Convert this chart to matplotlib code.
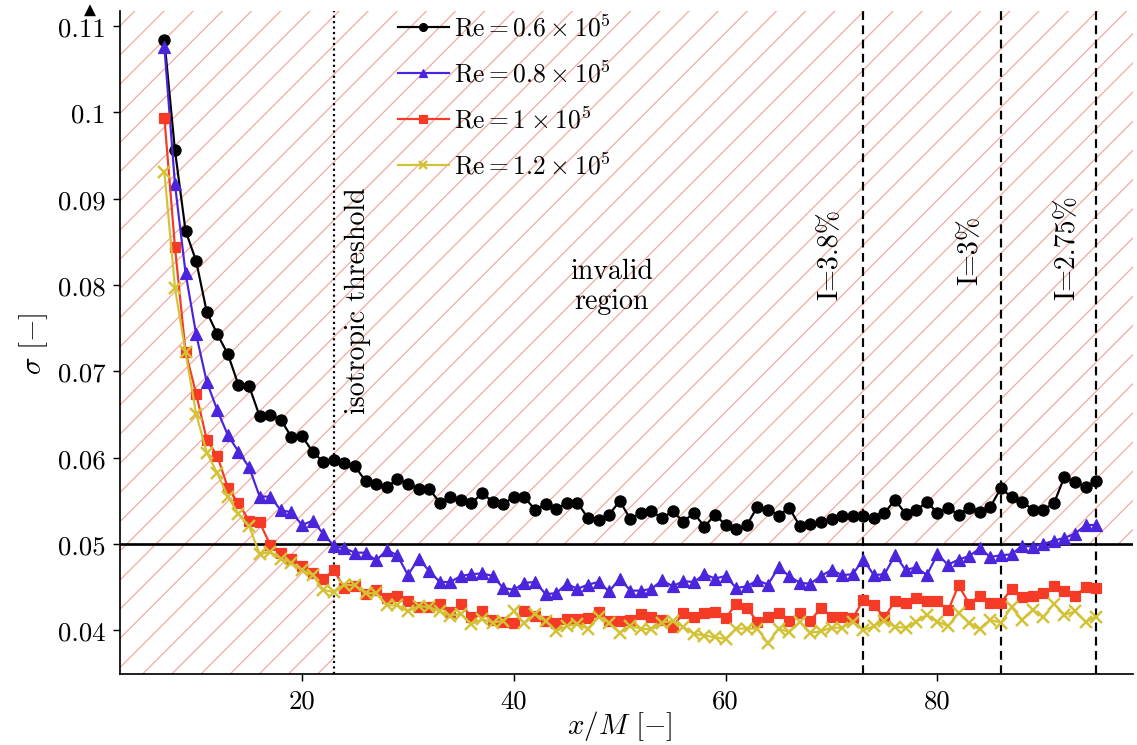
import numpy as np
import matplotlib
matplotlib.use("Agg")
import matplotlib.pyplot as plt
from matplotlib.patches import Rectangle
from matplotlib.ticker import FuncFormatter, FixedLocator

plt.rcParams['font.family'] = 'serif'
plt.rcParams['font.serif'] = ['cmr10']
plt.rcParams['mathtext.fontset'] = 'cm'
plt.rcParams['axes.formatter.use_mathtext'] = True
plt.rcParams['hatch.linewidth'] = 0.5

x_pos = list(range(7, 96))

sigma_re06 = [0.1084, 0.0956, 0.0863, 0.0828, 0.0769, 0.0743, 0.0720, 0.0684, 0.0683, 0.0648,
              0.0650, 0.0644, 0.0624, 0.0625, 0.0607, 0.0595, 0.0597, 0.0594, 0.0590, 0.0573,
              0.0570, 0.0566, 0.0575, 0.0570, 0.0564, 0.0564, 0.0548, 0.0555, 0.0551, 0.0547,
              0.0559, 0.0549, 0.0546, 0.0555, 0.0554, 0.0540, 0.0546, 0.0541, 0.0547, 0.0548,
              0.0530, 0.0528, 0.0534, 0.0550, 0.0529, 0.0536, 0.0538, 0.0530, 0.0538, 0.0526,
              0.0536, 0.0520, 0.0534, 0.0522, 0.0517, 0.0522, 0.0543, 0.0540, 0.0533, 0.0542,
              0.0521, 0.0523, 0.0525, 0.0529, 0.0532, 0.0532, 0.0533, 0.0530, 0.0536, 0.0551,
              0.0535, 0.0539, 0.0549, 0.0536, 0.0542, 0.0534, 0.0542, 0.0537, 0.0543, 0.0565,
              0.0554, 0.0549, 0.0540, 0.0540, 0.0547, 0.0578, 0.0572, 0.0566, 0.0573]

sigma_re08 = [0.1076, 0.0917, 0.0814, 0.0743, 0.0688, 0.0655, 0.0626, 0.0607, 0.0589, 0.0555,
              0.0555, 0.0539, 0.0537, 0.0522, 0.0527, 0.0512, 0.0498, 0.0495, 0.0490, 0.0490,
              0.0481, 0.0493, 0.0487, 0.0464, 0.0483, 0.0469, 0.0456, 0.0456, 0.0463, 0.0465,
              0.0466, 0.0463, 0.0449, 0.0447, 0.0455, 0.0456, 0.0442, 0.0443, 0.0454, 0.0448,
              0.0453, 0.0456, 0.0445, 0.0460, 0.0446, 0.0446, 0.0448, 0.0458, 0.0451, 0.0457,
              0.0456, 0.0465, 0.0460, 0.0463, 0.0449, 0.0451, 0.0458, 0.0453, 0.0473, 0.0463,
              0.0455, 0.0454, 0.0463, 0.0470, 0.0464, 0.0465, 0.0482, 0.0464, 0.0465, 0.0487,
              0.0470, 0.0473, 0.0464, 0.0488, 0.0476, 0.0482, 0.0486, 0.0495, 0.0485, 0.0487,
              0.0488, 0.0498, 0.0497, 0.0500, 0.0504, 0.0507, 0.0512, 0.0522, 0.0522]

sigma_re10 = [0.0994, 0.0844, 0.0723, 0.0674, 0.0621, 0.0602, 0.0565, 0.0547, 0.0527, 0.0525,
              0.0499, 0.0490, 0.0483, 0.0475, 0.0467, 0.0459, 0.0470, 0.0449, 0.0451, 0.0442,
              0.0447, 0.0437, 0.0440, 0.0434, 0.0427, 0.0427, 0.0431, 0.0421, 0.0430, 0.0416,
              0.0422, 0.0412, 0.0410, 0.0409, 0.0422, 0.0417, 0.0411, 0.0409, 0.0413, 0.0413,
              0.0414, 0.0421, 0.0411, 0.0411, 0.0412, 0.0419, 0.0415, 0.0412, 0.0404, 0.0420,
              0.0416, 0.0420, 0.0421, 0.0414, 0.0431, 0.0426, 0.0410, 0.0415, 0.0420, 0.0411,
              0.0420, 0.0411, 0.0426, 0.0416, 0.0416, 0.0414, 0.0435, 0.0429, 0.0415, 0.0434,
              0.0432, 0.0437, 0.0434, 0.0434, 0.0423, 0.0452, 0.0431, 0.0440, 0.0432, 0.0432,
              0.0448, 0.0439, 0.0440, 0.0443, 0.0451, 0.0445, 0.0440, 0.0450, 0.0449]

sigma_re12 = [0.0931, 0.0797, 0.0722, 0.0651, 0.0606, 0.0582, 0.0555, 0.0535, 0.0521, 0.0488,
              0.0491, 0.0483, 0.0478, 0.0470, 0.0464, 0.0447, 0.0444, 0.0453, 0.0452, 0.0443,
              0.0443, 0.0429, 0.0429, 0.0422, 0.0428, 0.0427, 0.0422, 0.0417, 0.0419, 0.0407,
              0.0413, 0.0409, 0.0411, 0.0422, 0.0408, 0.0419, 0.0411, 0.0399, 0.0405, 0.0407,
              0.0402, 0.0416, 0.0409, 0.0397, 0.0405, 0.0402, 0.0401, 0.0409, 0.0411, 0.0404,
              0.0396, 0.0394, 0.0392, 0.0390, 0.0402, 0.0402, 0.0402, 0.0385, 0.0402, 0.0398,
              0.0410, 0.0397, 0.0399, 0.0403, 0.0403, 0.0410, 0.0400, 0.0405, 0.0411, 0.0404,
              0.0403, 0.0410, 0.0418, 0.0410, 0.0405, 0.0420, 0.0409, 0.0401, 0.0412, 0.0409,
              0.0427, 0.0412, 0.0424, 0.0415, 0.0431, 0.0418, 0.0422, 0.0410, 0.0416]

labels = [r'$\mathrm{Re} = 0.6 \times 10^5$', r'$\mathrm{Re} = 0.8 \times 10^5$',
          r'$\mathrm{Re} = 1 \times 10^5$', r'$\mathrm{Re} = 1.2 \times 10^5$']
colors = ['#000000', '#4a25dc', '#f53a26', '#d4c236']
markers = ['o', '^', 's', 'x']

x_ticks = [20, 40, 60, 80]
y_ticks = [0.04, 0.05, 0.06, 0.07, 0.08, 0.09, 0.10, 0.11]

iso_threshold = 23
intensity_x = [73, 86, 95]
intensity_labels = ['I=3.8%', 'I=3%', 'I=2.75%']
sigma_limit = 0.05

xlim = (2.81, 98.47)
ylim = (0.03494, 0.11176)

DPI = 175
fig = plt.figure(figsize=(1137 / DPI, 746 / DPI), dpi=DPI)
ax = fig.add_axes([120 / 1137, 1 - 675 / 746, (1133 - 120) / 1137, (675 - 12) / 746])
ax.set_xlim(*xlim)
ax.set_ylim(*ylim)

hatch_col = '#f2a89f'
ax.add_patch(Rectangle((xlim[0], sigma_limit), xlim[1] - xlim[0], ylim[1] - sigma_limit,
                       facecolor='none', edgecolor=hatch_col, hatch='//', lw=0, zorder=0))
ax.add_patch(Rectangle((xlim[0], ylim[0]), iso_threshold - xlim[0], sigma_limit - ylim[0],
                       facecolor='none', edgecolor=hatch_col, hatch='//', lw=0, zorder=0))

ax.axhline(sigma_limit, color='black', lw=1.1, zorder=1)
ax.axvline(iso_threshold, color='black', lw=0.9, ls=(0, (1, 1.5)), zorder=1)
for xv in intensity_x:
    ax.axvline(xv, color='black', lw=0.9, ls=(0, (4, 2.5)), zorder=1)

series = [sigma_re06, sigma_re08, sigma_re10, sigma_re12]
msizes = [4.6, 4.8, 4.3, 4.8]
for s, lab, c, m, ms in zip(series, labels, colors, markers, msizes):
    ax.plot(x_pos, s, color=c, marker=m, ms=ms, lw=0.9, label=lab, zorder=3,
            mew=1.0 if m == 'x' else 0.5)

leg = ax.legend(loc='upper left', bbox_to_anchor=(0.2744, 0.995), frameon=False,
                fontsize=10.5, borderpad=0, borderaxespad=0, handletextpad=0.2,
                handlelength=2.0, labelspacing=0.77, markerscale=0.7)

ax.text(25.3, 0.0783, 'isotropic threshold', rotation=90, ha='center', va='center', fontsize=11.5)
ax.text(49.2, 0.0799, 'invalid\nregion', ha='center', va='center', fontsize=11.5,
        linespacing=1.2)
text_x = [69.9, 83.1, 92.3]
text_y = [0.0837, 0.0841, 0.0845]
for tx, ty, tl in zip(text_x, text_y, intensity_labels):
    ax.text(tx, ty, tl, rotation=90, ha='center', va='center', fontsize=11.5)

ax.xaxis.set_major_locator(FixedLocator(x_ticks))
ax.yaxis.set_major_locator(FixedLocator(y_ticks))
ax.yaxis.set_major_formatter(FuncFormatter(lambda v, p: f'{v:g}'))
ax.xaxis.set_major_formatter(FuncFormatter(lambda v, p: f'{v:g}'))
ax.tick_params(labelsize=11, direction='out', length=3, width=0.6, pad=3)

for side in ['top', 'right']:
    ax.spines[side].set_visible(False)
for side in ['left', 'bottom']:
    ax.spines[side].set_linewidth(0.7)
ax.plot(1, 0, '>k', ms=3.5, transform=ax.get_yaxis_transform(), clip_on=False)
ax.plot(0, 1, '^k', ms=3.5, transform=ax.get_xaxis_transform(), clip_on=False)

ax.set_xlabel(r'$x/M\ [-]$', fontsize=12)
ax.xaxis.set_label_coords(0.4936, -0.052)
ax.set_ylabel(r'$\sigma\ [-]$', fontsize=12, labelpad=3)

fig.savefig('out.png', dpi=DPI)
